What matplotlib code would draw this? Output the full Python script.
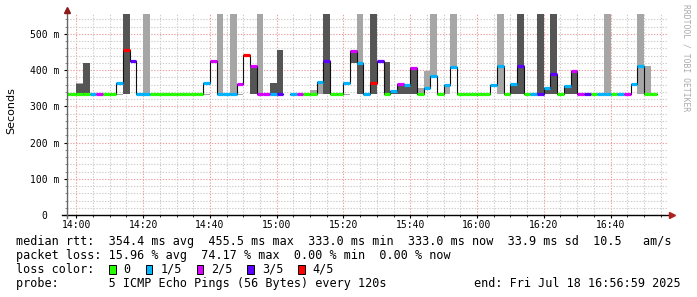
import numpy as np
import matplotlib
matplotlib.use("Agg")
import matplotlib.pyplot as plt
from matplotlib.patches import Rectangle

W, H = 697, 297
N = np.nan
TOP = 600  # values beyond the top of the chart

# ---------------- data ----------------
# each step is 2 minutes; start minute relative to 14:00
step_start = np.arange(-4, 174, 2)

median_ms = [333, 333, 333, 333, 333, 333, 333, 333, 364, 455,
             426, 333, 333, 333, 333, 333, 333, 333, 333, 333,
             333, 364, 424, 333, 333, 333, 361, 443, 411, 333,
             333, 333, 333, N, 334, 335, 333, 333, 366, 425,
             333, 333, 365, 453, 421, 333, 364, 424, 333, 343,
             361, 358, 405, 333, 350, 383, 333, 358, 410, 333,
             333, 333, 333, 333, 358, 411, 333, 361, 411, 333,
             333, 333, 352, 390, 333, 355, 398, 333, 333, 333,
             333, 333, 333, 333, 333, 361, 411, 333, 333]

loss_fifths = [0, 0, 0, 0, 1, 2, 0, 0, 1, 4,
               3, 1, 1, 0, 0, 0, 0, 0, 0, 0,
               0, 1, 2, 1, 1, 1, 2, 4, 2, 2,
               2, 1, 3, -1, 1, 2, 0, 0, 1, 3,
               0, 0, 1, 2, 1, 1, 4, 3, 0, 1,
               2, 1, 2, 0, 1, 1, 0, 1, 1, 0,
               0, 0, 0, 0, 1, 1, 0, 1, 3, 0,
               1, 3, 1, 3, 0, 1, 2, 2, 3, 0,
               1, 1, 0, 1, 2, 1, 1, 0, 0]

# outer smoke (light grey): step index (from 13:56), low, high
light_idx = [2, 8, 12, 21, 23, 25, 26, 29, 37, 38, 42, 44, 53, 54, 55, 57, 58, 65, 81, 86, 87]
light_lo  = [333, 332, 333, 332, 333, 333, 332, 333, 333, 333, 332, 421, 333, 350, 383, 333, 410, 333, 333, 333, 333]
light_hi  = [365, 335, TOP, 335, TOP, TOP, 335, TOP, 345, 366, 335, TOP, 350, 397, TOP, 358, TOP, TOP, TOP, TOP, 411]

# inner smoke (dark grey)
dark_idx = [2, 3, 9, 28, 31, 32, 39, 43, 44, 46, 48, 49, 50, 51, 52, 67, 68, 71, 72, 73, 75, 76]
dark_lo  = [333, 333, 333, 333, 333, 333, 333, 420, 333, 333, 333, 333, 333, 333, 333, 333, 333, 333, 333, 333, 333, 333]
dark_hi  = [361, 419, TOP, 411, 364, 455, TOP, 453, 421, TOP, 422, 343, 358, 358, 405, 361, TOP, TOP, 352, TOP, 355, 398]

loss_labels = ["0", "1/5", "2/5", "3/5", "4/5"]
loss_colors = ["#26ff00", "#00b4ff", "#d800ff", "#5e00ff", "#ff0000"]

tick_minutes = [0, 20, 40, 60, 80, 100, 120, 140, 160]
tick_labels = ["14:00", "14:20", "14:40", "15:00", "15:20", "15:40", "16:00", "16:20", "16:40"]
y_ticks = [0, 100, 200, 300, 400, 500]
y_labels = ["0  ", "100 m", "200 m", "300 m", "400 m", "500 m"]

rtt_stats = [354.4, 455.5, 333.0, 333.0]
rtt_sd = 33.9
am_s = 10.5
loss_stats = [15.96, 74.17, 0.00, 0.00]

# ---------------- figure ----------------
mono = "DejaVu Sans Mono"
fig = plt.figure(figsize=(W / 100, H / 100), dpi=100)
fig.patch.set_facecolor("white")
ax = fig.add_axes([67 / W, (H - 215) / H, 601 / W, 201 / H])
ax.set_facecolor("white")
ax.set_xlim(-2.8, 177.2)
ax.set_ylim(0, 555)

median = np.array(median_ms, dtype=float)
loss = np.array(loss_fifths)

# smoke
ss = np.asarray(step_start)
ax.bar(ss[light_idx], np.array(light_hi) - np.array(light_lo), width=2, bottom=light_lo,
       align="edge", color="#a6a6a6", linewidth=0, zorder=2)
ax.bar(ss[dark_idx], np.array(dark_hi) - np.array(dark_lo), width=2, bottom=dark_lo,
       align="edge", color="#555555", linewidth=0, zorder=3)

# median step line
xl = np.append(ss, ss[-1] + 2)
yl = np.append(median, median[-1])
ax.plot(xl, yl, drawstyle="steps-post", color="#101010", lw=0.8, zorder=4)

# loss-coloured median segments
ok = ~np.isnan(median)
cols = [loss_colors[l] for l in loss[ok]]
ax.hlines(median[ok], ss[ok], ss[ok] + 2, colors=cols, lw=2.3, zorder=5)

# grid
ax.set_xticks(tick_minutes)
ax.set_xticks(np.arange(-0, 180, 5), minor=True)
ax.set_yticks(y_ticks)
ax.set_yticks(np.arange(0, 560, 20), minor=True)
ax.set_axisbelow(True)
ax.grid(which="minor", color="#cccccc", linestyle=(0, (1.2, 1.4)), lw=0.8)
ax.grid(which="major", color="#eda0a0", linestyle=(0, (1.2, 1.4)), lw=0.8)

ax.set_xticklabels(tick_labels, family=mono, fontsize=7)
ax.set_yticklabels(y_labels, family=mono, fontsize=7)
ax.tick_params(axis="x", which="major", length=2, width=0.8, pad=1.5, colors="black")
ax.tick_params(axis="x", which="minor", length=1.5, width=0.6)
ax.tick_params(axis="y", which="major", length=2.5, width=0.8, pad=3, colors="black")
ax.tick_params(axis="y", which="minor", length=1.5, width=0.6, color="#777777")

for s in ["top", "right", "bottom", "left"]:
    ax.spines[s].set_visible(False)
ax.plot([-0.008, 1.0], [0, 0], transform=ax.transAxes, color="black", lw=1.0, clip_on=False, zorder=6)
ax.plot([0, 0], [-0.015, 1.01], transform=ax.transAxes, color="#666666", lw=1.0, clip_on=False, zorder=6)
ax.plot([1.006], [0], transform=ax.transAxes, marker=">", ms=4.5, color="#b02020", clip_on=False, zorder=7)
ax.plot([0], [1.02], transform=ax.transAxes, marker="^", ms=4.5, color="#8b1c1c", clip_on=False, zorder=7)

# labels
fig.text(11.5 / W, 1 - 111 / H, "Seconds", rotation=90, ha="center", va="center",
         family="DejaVu Sans", fontsize=8)
fig.text(686 / W, 1 - 4 / H, "RRDTOOL / TOBI OETIKER", rotation=270, ha="center", va="top",
         family=mono, fontsize=5.8, color="#aaaaaa")


def ltext(xpx, ypx, s, **kw):
    fig.text(xpx / W, 1 - ypx / H, s, family=mono, fontsize=8.5, va="center", **kw)


line1 = ("median rtt:  %.1f ms avg  %.1f ms max  %.1f ms min  %.1f ms now  %.1f ms sd  %.1f   am/s"
         % (rtt_stats[0], rtt_stats[1], rtt_stats[2], rtt_stats[3], rtt_sd, am_s))
line2 = ("packet loss: %.2f %% avg  %.2f %% max  %.2f %% min  %.2f %% now"
         % tuple(loss_stats))
ltext(16, 241.5, line1)
ltext(16, 255.5, line2)
ltext(16, 269.5, "loss color:")
box_x = [109, 145.7, 196.7, 247.3, 298.3]
for bx, lab, c in zip(box_x, loss_labels, loss_colors):
    fig.add_artist(Rectangle((bx / W, 1 - 274 / H), 6.7 / W, 9 / H, facecolor=c,
                             edgecolor="black", lw=0.7, transform=fig.transFigure))
    ltext(bx + 14.5, 269.5, lab)
ltext(16, 283.5, "probe:       5 ICMP Echo Pings (56 Bytes) every 120s")
ltext(681, 283.5, "end: Fri Jul 18 16:56:59 2025", ha="right")

fig.savefig("out.png", dpi=100, facecolor="white")
